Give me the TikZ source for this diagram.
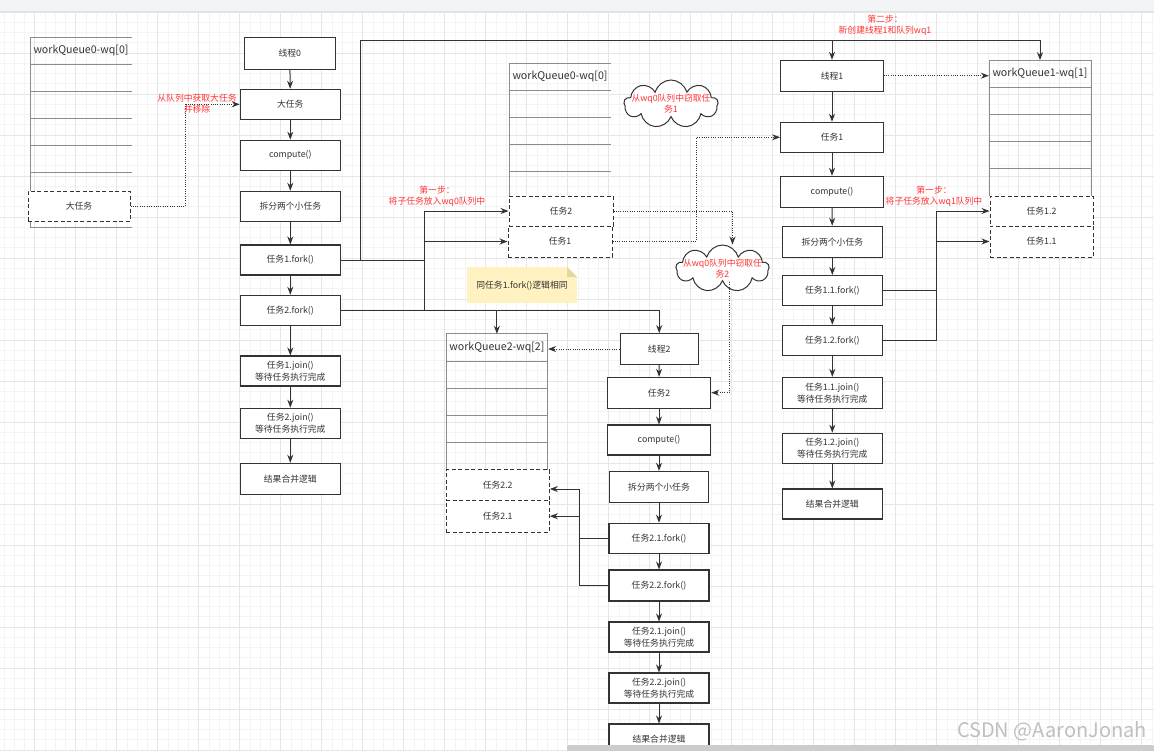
\documentclass[tikz,border=0pt]{standalone}
\usepackage{fontspec}
\setmainfont{Noto Sans CJK SC}
\usepackage{tikz}
\usetikzlibrary{arrows.meta,shapes.symbols}

\definecolor{dk}{HTML}{333333}
\definecolor{txt}{HTML}{333333}
\definecolor{redlbl}{HTML}{FF3333}
\definecolor{qline}{HTML}{8C8C8C}
\definecolor{gridmin}{HTML}{F4F4F4}
\definecolor{gridmaj}{HTML}{E6E6E6}
\definecolor{topbar}{HTML}{F3F4F6}
\definecolor{notebg}{HTML}{FFF2C0}
\definecolor{notefold}{HTML}{E6D7A0}

\begin{document}
\begin{tikzpicture}[
  x=1pt, y=-1pt,
  box/.style={draw=dk, line width=1.1pt, fill=white, minimum width=100pt,
              minimum height=30pt, inner sep=0pt, align=center, text=txt,
              font=\fontsize{8.8}{12}\selectfont},
  item/.style={draw=dk, dash pattern=on 4pt off 2.5pt, line width=1pt, fill=white,
              minimum width=102pt, minimum height=30pt, inner sep=0pt, text=txt,
              font=\fontsize{8.8}{12}\selectfont},
  qhead/.style={minimum width=102pt, minimum height=27pt, inner sep=0pt,
              text=txt, font=\fontsize{10.6}{13}\selectfont},
  qln/.style={draw=qline, line width=0.9pt},
  cloudbox/.style={cloud, cloud puffs=9, cloud ignores aspect, draw=dk,
              line width=1pt, fill=white, minimum width=94pt, minimum height=48pt,
              inner sep=0pt},
  lbl/.style={align=center, text=redlbl, inner sep=0pt,
              font=\fontsize{8.8}{11}\selectfont},
  note/.style={fill=notebg, minimum width=110pt, minimum height=36pt, inner sep=0pt,
              text=txt, font=\fontsize{8.8}{12}\selectfont},
  wmark/.style={text=gray!50, inner sep=0pt, font=\fontsize{20}{20}\selectfont},
  ar/.style={-{Stealth[length=8pt,width=6pt]}, draw=dk, line width=1pt},
  ln/.style={draw=dk, line width=1pt},
  dar/.style={-{Stealth[length=8pt,width=6pt]}, draw=dk, line width=1pt,
              dash pattern=on 1pt off 1.3pt}
]
\useasboundingbox (0,0) rectangle (1154,750);
\fill[white] (0,0) rectangle (1154,750);
\foreach \i in {0,...,114} \draw[gridmin, line width=0.6pt] ({-6.3+10.25*\i},11) -- ++(0,739);
\foreach \i in {0,...,72} \draw[gridmin, line width=0.6pt] (0,{12+10.25*\i}) -- ++(1154,0);
\foreach \i in {0,...,28} \draw[gridmaj, line width=0.7pt] ({-6.3+41*\i},11) -- ++(0,739);
\foreach \i in {0,...,18} \draw[gridmaj, line width=0.7pt] (0,{12+41*\i}) -- ++(1154,0);
\fill[topbar] (0,0) rectangle (1154,11);
\draw[gray!25] (0,11) -- (1154,11);

\draw[qln] (30,227) -- (30,37) -- (132,37);
\foreach \y in {64,91,118,145,172,227} \draw[qln] (30,\y) -- (132,\y);
\draw[qln] (509.3,196) -- (509.3,63.3) -- (610.7,63.3);
\foreach \y in {90.3,117.3,144.3,171.3} \draw[qln] (509.3,\y) -- (610.7,\y);
\draw[qln] (989,196) -- (989,60.3) -- (1091,60.3) -- (1091,196);
\foreach \y in {87.3,114.3,141.3,168.3} \draw[qln] (989,\y) -- (1091,\y);
\draw[qln] (446,470) -- (446,333.7) -- (547.7,333.7) -- (547.7,470);
\foreach \y in {361.3,388.3,415.3,442.3} \draw[qln] (446,\y) -- (547.7,\y);

\node[qhead] (wq0h) at (81,50.5) {workQueue0-wq[0]};
\node[qhead] (wq0mh) at (560,76.8) {workQueue0-wq[0]};
\node[qhead] (wq1h) at (1040,73.8) {workQueue1-wq[1]};
\node[qhead] (wq2h) at (496.9,347.5) {workQueue2-wq[2]};

\node[item] (bigq) at (79,206) {大任务};
\node[item, minimum width=104pt] (q0t2) at (561,211) {任务2};
\node[item, minimum width=104pt, minimum height=31pt] (q0t1) at (560,241.5) {任务1};
\node[item, minimum width=103pt] (q1t12) at (1041.5,211) {任务1.2};
\node[item, minimum width=103pt, minimum height=31pt] (q1t11) at (1041.5,241.5) {任务1.1};
\node[item, minimum width=103.3pt, minimum height=30.6pt] (q2t22) at (497.7,485) {任务2.2};
\node[item, minimum width=103.3pt, minimum height=31.7pt] (q2t21) at (497.7,516.2) {任务2.1};

\node[box, minimum width=91pt, minimum height=32pt] (thr0) at (289.8,53.3) {线程0};
\node[box] (big) at (290.3,104.3) {大任务};
\node[box] (comp0) at (290.3,155.2) {compute()};
\node[box] (split0) at (290.3,206.3) {拆分两个小任务};
\node[box] (fork1) at (290.3,260) {任务1.fork()};
\node[box] (fork2) at (290.3,310.3) {任务2.fork()};
\node[box] (join1) at (290.3,371) {任务1.join()\\等待任务执行完成};
\node[box] (join2) at (290.3,423.2) {任务2.join()\\等待任务执行完成};
\node[box, minimum height=31pt] (merge0) at (290.3,478.8) {结果合并逻辑};

\node[box, minimum width=102.6pt, minimum height=30.7pt] (thr1) at (832,75.7) {线程1};
\node[box, minimum width=102.6pt] (task1) at (832,137.3) {任务1};
\node[box, minimum width=102.6pt, minimum height=30.7pt] (comp1) at (832,191.7) {compute()};
\node[box, minimum height=31pt] (split1) at (832.3,241.8) {拆分两个小任务};
\node[box] (fork11) at (832.3,290.5) {任务1.1.fork()};
\node[box] (fork12) at (832.3,340.3) {任务1.2.fork()};
\node[box, minimum height=30.7pt] (join11) at (832.3,392.7) {任务1.1.join()\\等待任务执行完成};
\node[box] (join12) at (832.3,448.2) {任务1.2.join()\\等待任务执行完成};
\node[box] (merge1) at (832.3,504) {结果合并逻辑};

\node[box, minimum width=78.3pt, minimum height=30.7pt] (thr2) at (659.2,349) {线程2};
\node[box, minimum width=103.4pt, minimum height=30.7pt] (task2) at (659,392.7) {任务2};
\node[box, minimum width=103.4pt] (comp2) at (659,440) {compute()};
\node[box, minimum width=99.4pt, minimum height=30.7pt] (split2) at (659,486.7) {拆分两个小任务};
\node[box] (fork21) at (659,538.2) {任务2.1.fork()};
\node[box, minimum height=31pt] (fork22) at (659,585.5) {任务2.2.fork()};
\node[box] (join21) at (659,637) {任务2.1.join()\\等待任务执行完成};
\node[box] (join22) at (659,688) {任务2.2.join()\\等待任务执行完成};
\node[box] (merge2) at (659,739) {结果合并逻辑};

\node[cloudbox] (cl1) at (671,104) {};
\node[lbl] (cl1t) at (cl1) {从wq0队列中窃取任\\务1};
\node[cloudbox, minimum width=93pt, minimum height=47pt] (cl2) at (722.5,268.5) {};
\node[lbl] (cl2t) at (cl2) {从wq0队列中窃取任\\务2};

\node[note] (nt) at (522,285.3) {同任务1.fork()逻辑相同};
\fill[white] ([xshift=-10pt]nt.north east) -- (nt.north east) -- ([yshift=-10pt]nt.north east) -- cycle;
\fill[notefold] ([xshift=-10pt]nt.north east) -- ([xshift=-10pt,yshift=-10pt]nt.north east) -- ([yshift=-10pt]nt.north east) -- cycle;

\foreach \a/\b in {thr0/big, big/comp0, comp0/split0, split0/fork1, fork1/fork2,
  fork2/join1, join1/join2, join2/merge0, thr1/task1, task1/comp1, comp1/split1,
  split1/fork11, fork11/fork12, fork12/join11, join11/join12, join12/merge1,
  thr2/task2, task2/comp2, comp2/split2, split2/fork21, fork21/fork22,
  fork22/join21, join21/join22, join22/merge2}
  \draw[ar] (\a) -- (\b);

\coordinate (bus) at (360,40);
\coordinate (j0) at (424,310.3);
\coordinate (j1) at (936,340.3);
\coordinate (j2) at (579,585.5);

\draw[ar] (fork1.east) -| (bus) -| (wq1h.north);
\draw[ar] (bus -| thr1.north) -- (thr1.north);
\draw[ln] (fork1.east) -- (fork1.east -| j0);
\draw[ar] (j0) |- (q0t2.west);
\draw[ar] (j0 |- q0t1.west) -- (q0t1.west);
\draw[ar] (fork2.east) -| (wq2h.north);
\draw[ar] (fork2.east) -| (thr2.north);

\draw[ln] (fork11.east) -- (fork11.east -| j1);
\draw[ar] (fork12.east) -- (j1) |- (q1t12.west);
\draw[ar] (j1 |- q1t11.west) -- (q1t11.west);

\draw[ln] (fork21.west) -- (fork21.west -| j2);
\draw[ar] (fork22.west) -- (j2) |- ([yshift=-4pt]q2t22.east);
\draw[ar] (j2 |- q2t21.east) -- (q2t21.east);

\draw[dar] (bigq.east) -- ++(55,0) |- (big.west);
\draw[dar] (thr1.east) -- (thr1.east -| wq1h.west);
\draw[dar] (thr2.west) -- (thr2.west -| wq2h.east);
\draw[dar] (q0t2.east) -| ([xshift=10pt]cl2.north);
\draw[dar] ([xshift=7pt]cl2.south) |- (task2.east);
\draw[dar] (q0t1.east) -- ++(84,0) |- (task1.west);

\node[lbl] (lblbig) at (197,104) {从队列中获取大任务\\并移除};
\node[lbl] (lblwq1) at (885,25.5) {第二步：\\新创建线程1和队列wq1};
\node[lbl] (lblwq0) at (437,196) {第一步：\\将子任务放入wq0队列中};
\node[lbl] (lblwq1b) at (934,196.5) {第一步：\\将子任务放入wq1队列中};

\fill[gray!40, rounded corners=2pt] (567,745) rectangle (1154,753);
\node[wmark] (wm) at (1052,731) {CSDN @AaronJonah};
\end{tikzpicture}
\end{document}
